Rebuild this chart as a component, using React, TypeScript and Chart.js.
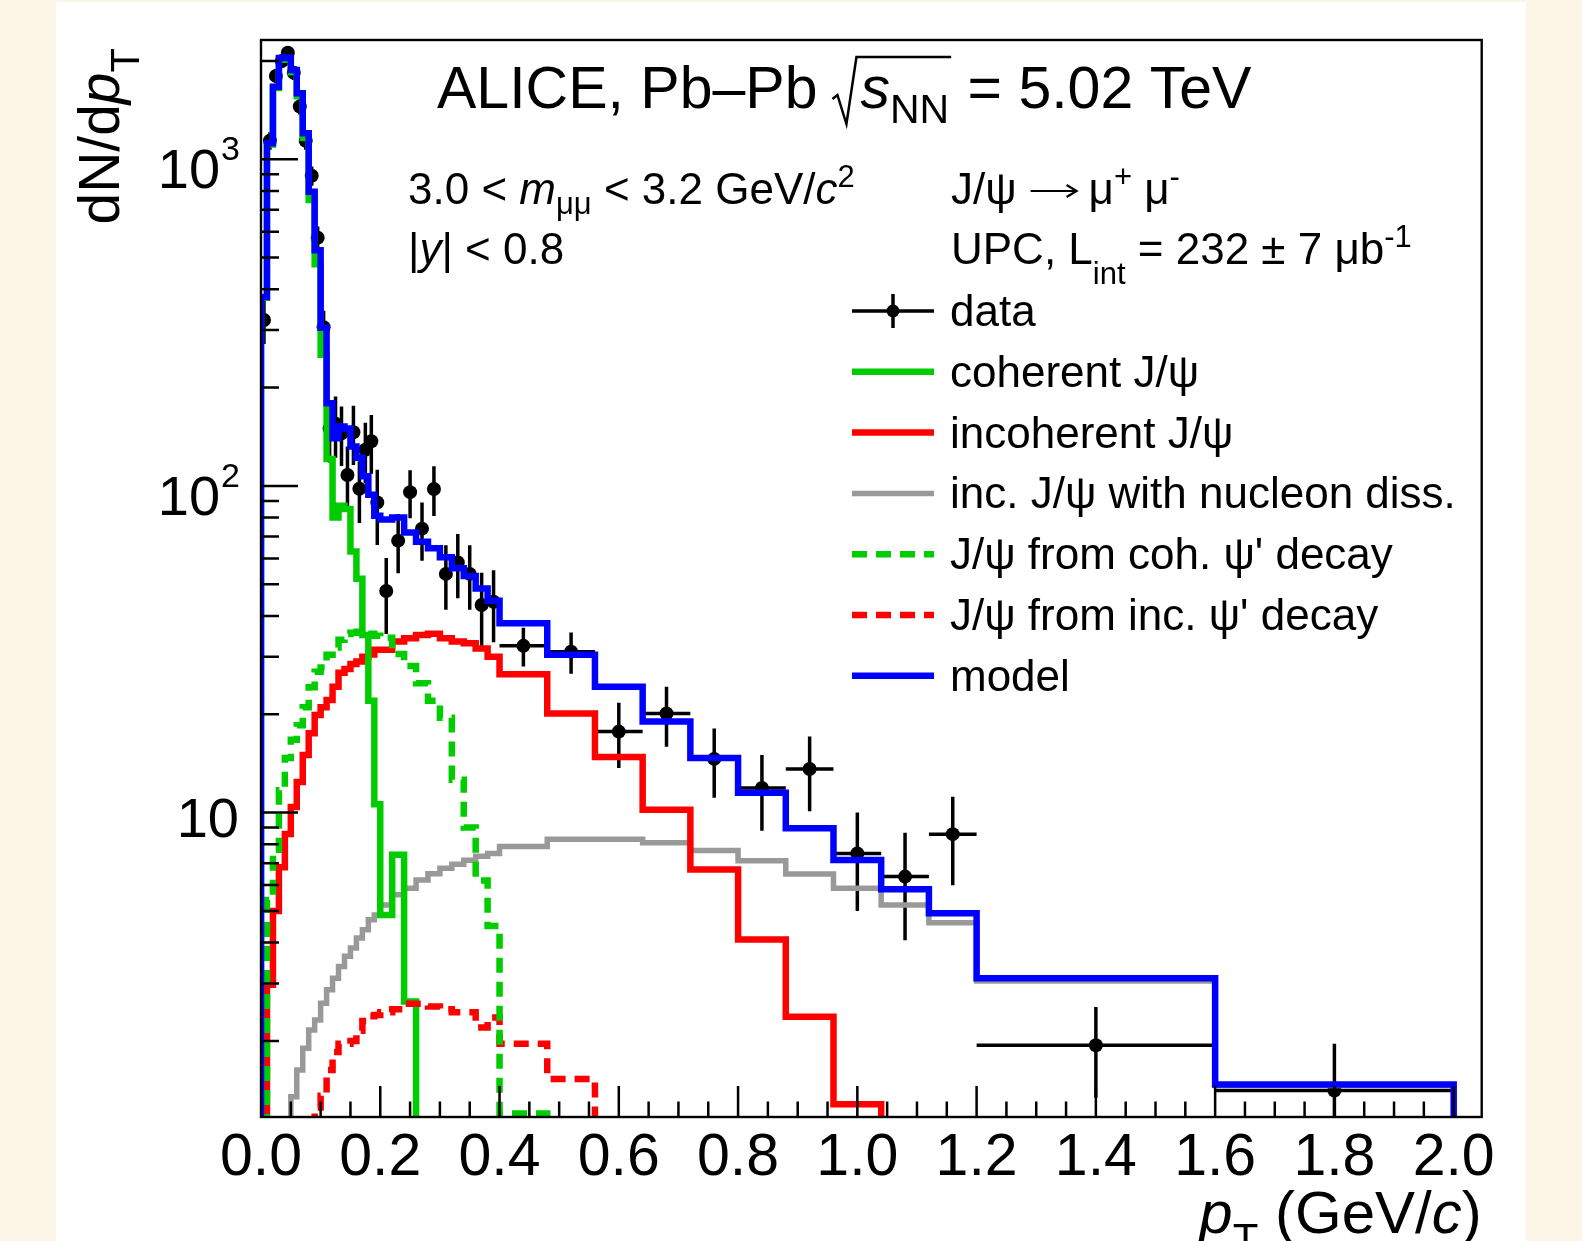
import React, { useEffect, useRef } from "react";
import { Chart, registerables } from "chart.js";

Chart.register(...registerables);

const FONT = '"Liberation Sans", Arial, Helvetica, sans-serif';

// ---------- DATA ----------
const binEdges = [0, 0.01, 0.02, 0.03, 0.04, 0.05, 0.06, 0.07, 0.08, 0.09, 0.1, 0.11, 0.12, 0.13, 0.14, 0.15, 0.16, 0.17, 0.18, 0.19, 0.2, 0.22, 0.24, 0.26, 0.28, 0.3, 0.32, 0.34, 0.36, 0.38, 0.4, 0.48, 0.56, 0.64, 0.72, 0.8, 0.88, 0.96, 1.04, 1.12, 1.2, 1.6, 2.0];

const modelValues = [379, 1119, 1667, 2040, 2050, 1876, 1592, 1201, 796, 527, 305, 179, 140, 152, 150, 132, 122, 107, 94, 81, 79, 80, 72, 67.5, 64.5, 60.5, 56, 53, 48.5, 44.5, 38, 30.4, 24.3, 19.0, 14.7, 11.5, 8.96, 7.16, 5.83, 4.92, 3.11, 1.47];

const coherentValues = [377, 1110, 1653, 2015, 2020, 1848, 1560, 1162, 751, 477, 252, 121, 80, 87, 85, 63, 52, 35, 22, 10.6, 4.86, 7.43, 2.64, 0.3, 0.05, 0.02, 0.01, 0.01, 0.01, 0.01, 0.01, 0.01, 0.01, 0.01, 0.01, 0.01, 0.01, 0.01, 0.01, 0.01, 0.01, 0.01];

const incoherentValues = [0.5, 2.97, 5.0, 6.8, 8.6, 10.4, 12.4, 15.0, 17.5, 19.9, 21, 22.1, 24.3, 26.8, 27.5, 28.5, 29, 30, 30.5, 31.5, 31.5, 33.4, 34.2, 35.0, 35.3, 34.2, 33.4, 33.0, 31.8, 30.0, 26.5, 20.1, 14.8, 10.2, 6.7, 4.09, 2.37, 1.28, 0.5, 0.2, 0.05, 0.01];

const nucleonDissValues = [0.3, 0.5, 0.7, 0.9, 1.1, 1.35, 1.63, 1.9, 2.16, 2.32, 2.61, 2.87, 3.11, 3.38, 3.63, 3.85, 4.13, 4.38, 4.7, 4.86, 5.21, 5.6, 5.87, 6.22, 6.5, 6.75, 6.95, 7.15, 7.35, 7.5, 7.87, 8.29, 8.29, 8.09, 7.65, 7.12, 6.49, 5.87, 5.21, 4.6, 3.05, 1.46];

const cohPsi2sValues = [0.5, 5.4, 7.7, 11.7, 14.7, 16.7, 18.5, 21.0, 24.2, 27, 27.8, 30.4, 32, 33.8, 35.2, 35.5, 35.8, 35.8, 35.3, 34.8, 34.3, 30.6, 28.1, 24.9, 22, 19.5, 12.6, 9, 6.2, 4.5, 1.2, 0.3, 0.05, 0.01, 0.01, 0.01, 0.01, 0.01, 0.01, 0.01, 0.01, 0.01];

const incPsi2sValues = [0.05, 0.1, 0.2, 0.35, 0.5, 0.65, 0.8, 0.95, 1.15, 1.25, 1.36, 1.63, 1.85, 1.96, 1.96, 2.0, 2.15, 2.3, 2.38, 2.4, 2.45, 2.5, 2.6, 2.6, 2.55, 2.5, 2.45, 2.45, 2.2, 2.36, 1.96, 1.53, 0.5, 0.2, 0.1, 0.05, 0.02, 0.01, 0.01, 0.01, 0.01, 0.01];

const dataValues = [322, 1140, 1800, 2000, 2120, 1840, 1450, 1140, 890, 575, 306, 150, 155, 145, 108, 146, 98, 129, 137, 89, 47.7, 68, 95.7, 74, 97.9, 53.8, 58.3, 53.8, 43.2, 44.2, 32.4, 31.1, 17.7, 20.1, 14.6, 11.9, 13.6, 7.5, 6.37, 8.59, 1.94, 1.41];

const dataErrors = [50, 70, 90, 95, 95, 90, 80, 70, 60, 48, 38, 32, 33, 30, 24, 30, 21, 27, 28, 23, 12.5, 14, 16, 15, 17, 12, 13, 12, 11, 11, 4.4, 4.5, 4, 4.2, 3.5, 3.1, 3.5, 2.5, 2.3, 2.6, 0.6, 0.55];

const xMajorTicks = [0, 0.2, 0.4, 0.6, 0.8, 1.0, 1.2, 1.4, 1.6, 1.8, 2.0];
const xTickLabels = ["0.0", "0.2", "0.4", "0.6", "0.8", "1.0", "1.2", "1.4", "1.6", "1.8", "2.0"];
const yMajorTicks = [10, 100, 1000];
const yTickExponents = ["", "2", "3"];

const legendLabels = [
  "data",
  "coherent J/\u03C8",
  "incoherent J/\u03C8",
  "inc. J/\u03C8 with nucleon diss.",
  "J/\u03C8 from coh. \u03C8' decay",
  "J/\u03C8 from inc. \u03C8' decay",
  "model",
];

// ---------- STYLE ----------
const X_MIN = 0;
const X_MAX = 2.047;
const Y_MIN = 1.17;
const Y_MAX = 2318;
const FLOOR = 0.005;
const W = 1582;
const H = 1241;
const GREEN = "#00cc00";
const RED = "#ff0000";
const GRAY = "#999999";
const BLUE = "#0000ff";
const DASH = [15, 9];
const LW = 6.5;

function histPoints(values: number[]) {
  const n = binEdges.length - 1;
  const pts: { x: number; y: number }[] = [{ x: binEdges[0], y: FLOOR }];
  for (let i = 0; i < n; i++) pts.push({ x: binEdges[i], y: values[i] });
  pts.push({ x: binEdges[n], y: values[n - 1] });
  pts.push({ x: binEdges[n], y: FLOOR });
  return pts;
}

type Seg = { t: string; it?: boolean; s?: number; dy?: number };

function fontOf(sg: Seg, base: number) {
  return `${sg.it ? "italic " : ""}${Math.round((sg.s ?? 1) * base)}px ${FONT}`;
}

function drawRich(ctx: CanvasRenderingContext2D, x: number, y: number, segs: Seg[], base: number, align: "left" | "right" | "center" = "left") {
  const widths = segs.map((sg) => {
    ctx.font = fontOf(sg, base);
    return ctx.measureText(sg.t).width;
  });
  const total = widths.reduce((a, b) => a + b, 0);
  let cx = align === "right" ? x - total : align === "center" ? x - total / 2 : x;
  ctx.textAlign = "left";
  ctx.textBaseline = "alphabetic";
  segs.forEach((sg, i) => {
    ctx.font = fontOf(sg, base);
    ctx.fillText(sg.t, cx, y + (sg.dy ?? 0));
    cx += widths[i];
  });
  return cx;
}

const rootPlugin = {
  id: "rootStyle",
  beforeDraw(chart: any) {
    const ctx: CanvasRenderingContext2D = chart.ctx;
    ctx.save();
    ctx.fillStyle = "#fdf6e7";
    ctx.fillRect(0, 0, W, H);
    ctx.fillStyle = "#ffffff";
    ctx.fillRect(56, 2, 1470, H - 2);
    ctx.restore();
  },
  beforeDatasetsDraw(chart: any) {
    const ctx: CanvasRenderingContext2D = chart.ctx;
    const xs = chart.scales.x;
    const ys = chart.scales.y;
    const a = chart.chartArea;
    ctx.save();
    ctx.beginPath();
    ctx.rect(a.left, a.top, a.right - a.left, a.bottom - a.top);
    ctx.clip();
    ctx.strokeStyle = "#000";
    ctx.lineWidth = 3.5;
    ctx.beginPath();
    for (let i = 0; i < dataValues.length; i++) {
      const xc = (binEdges[i] + binEdges[i + 1]) / 2;
      const v = dataValues[i];
      const e = dataErrors[i];
      const px = xs.getPixelForValue(xc);
      const py = ys.getPixelForValue(v);
      ctx.moveTo(px, ys.getPixelForValue(v + e));
      ctx.lineTo(px, ys.getPixelForValue(Math.max(v - e, FLOOR)));
      ctx.moveTo(xs.getPixelForValue(binEdges[i]), py);
      ctx.lineTo(xs.getPixelForValue(binEdges[i + 1]), py);
    }
    ctx.stroke();
    ctx.restore();
  },
  afterDatasetsDraw(chart: any) {
    const ctx: CanvasRenderingContext2D = chart.ctx;
    const xs = chart.scales.x;
    const ys = chart.scales.y;
    const a = chart.chartArea;
    ctx.save();
    ctx.fillStyle = "#000";
    ctx.strokeStyle = "#000";

    // ticks
    ctx.lineWidth = 2.5;
    ctx.beginPath();
    for (let i = 1; i <= 40; i++) {
      const v = i * 0.05;
      const px = xs.getPixelForValue(v);
      const major = i % 4 === 0;
      ctx.moveTo(px, a.bottom);
      ctx.lineTo(px, a.bottom - (major ? 31 : 15.5));
    }
    for (let k = 0; k <= 3; k++) {
      for (let m = 1; m <= 9; m++) {
        const v = m * Math.pow(10, k);
        if (v < Y_MIN || v > Y_MAX) continue;
        const py = ys.getPixelForValue(v);
        ctx.moveTo(a.left, py);
        ctx.lineTo(a.left + (m === 1 ? 37 : 18), py);
      }
    }
    ctx.stroke();

    // frame
    ctx.lineWidth = 2.4;
    ctx.strokeRect(a.left, a.top, a.right - a.left, a.bottom - a.top);

    // x tick labels
    ctx.font = `59px ${FONT}`;
    ctx.textAlign = "center";
    ctx.textBaseline = "alphabetic";
    xMajorTicks.forEach((v, i) => {
      ctx.fillText(xTickLabels[i], xs.getPixelForValue(v), 1175);
    });

    // y tick labels
    yMajorTicks.forEach((v, i) => {
      const py = ys.getPixelForValue(v);
      const exp = yTickExponents[i];
      if (exp) {
        ctx.font = `34px ${FONT}`;
        ctx.textAlign = "right";
        ctx.fillText(exp, 240, py + 1);
        const ew = ctx.measureText(exp).width;
        ctx.font = `56px ${FONT}`;
        ctx.fillText("10", 240 - ew - 1, py + 29);
      } else {
        ctx.font = `56px ${FONT}`;
        ctx.textAlign = "right";
        ctx.fillText("10", 239, py + 24);
      }
    });

    // axis titles
    drawRich(ctx, a.right, 1233, [
      { t: "p", it: true },
      { t: "T", s: 0.7, dy: 20 },
      { t: " (GeV/" },
      { t: "c", it: true },
      { t: ")" },
    ], 59.5, "right");

    ctx.save();
    ctx.translate(119, 48);
    ctx.rotate(-Math.PI / 2);
    drawRich(ctx, 0, 0, [
      { t: "dN/d" },
      { t: "p", it: true },
      { t: "T", s: 0.7, dy: 20 },
    ], 57, "right");
    ctx.restore();

    // title
    let cx = drawRich(ctx, 437, 108, [{ t: "ALICE, Pb\u2013Pb" }], 58.5);
    const r0 = cx + 15;
    ctx.lineWidth = 2.5;
    ctx.beginPath();
    ctx.moveTo(r0, 99);
    ctx.lineTo(r0 + 5, 95);
    ctx.lineTo(r0 + 14, 124);
    ctx.lineTo(r0 + 24, 57);
    const sx = r0 + 28;
    cx = drawRich(ctx, sx, 108, [
      { t: "s", it: true },
      { t: "NN", s: 0.7, dy: 15 },
    ], 58.5);
    ctx.lineTo(cx + 2, 57);
    ctx.stroke();
    drawRich(ctx, cx + 2, 108, [{ t: " = 5.02 TeV" }], 58.5);

    // info texts
    drawRich(ctx, 408, 204, [
      { t: "3.0 < " },
      { t: "m", it: true },
      { t: "\u03BC\u03BC", s: 0.7, dy: 10 },
      { t: " < 3.2 GeV/" },
      { t: "c", it: true },
      { t: "2", s: 0.7, dy: -17 },
    ], 44);
    drawRich(ctx, 408, 264, [
      { t: "|" },
      { t: "y", it: true },
      { t: "| < 0.8" },
    ], 44);
    cx = drawRich(ctx, 951, 204, [{ t: "J/\u03C8" }], 44);
    // long arrow
    const ax0 = cx + 14;
    const ax1 = cx + 60;
    const ay = 191;
    ctx.lineWidth = 2.2;
    ctx.beginPath();
    ctx.moveTo(ax0, ay);
    ctx.lineTo(ax1, ay);
    ctx.moveTo(ax1 - 10, ay - 6);
    ctx.lineTo(ax1, ay);
    ctx.lineTo(ax1 - 10, ay + 6);
    ctx.stroke();
    drawRich(ctx, ax1 + 12, 204, [
      { t: "\u03BC" },
      { t: "+", s: 0.7, dy: -17 },
      { t: " \u03BC" },
      { t: "-", s: 0.7, dy: -17 },
    ], 44);
    drawRich(ctx, 951, 264, [
      { t: "UPC, L" },
      { t: "int", s: 0.7, dy: 20 },
      { t: " = 232 \u00B1 7 \u03BCb" },
      { t: "-1", s: 0.7, dy: -17 },
    ], 44);

    // legend
    const ly = [311, 371.8, 432.6, 493.4, 554.2, 615, 675.8];
    const lx1 = 852;
    const lx2 = 934;
    const styles: { c: string; dash: number[]; w: number }[] = [
      { c: "#000", dash: [], w: 3.5 },
      { c: GREEN, dash: [], w: LW },
      { c: RED, dash: [], w: LW },
      { c: GRAY, dash: [], w: 5.5 },
      { c: GREEN, dash: DASH, w: LW },
      { c: RED, dash: DASH, w: LW },
      { c: BLUE, dash: [], w: LW },
    ];
    legendLabels.forEach((lab, i) => {
      const y = ly[i];
      ctx.save();
      ctx.strokeStyle = styles[i].c;
      ctx.lineWidth = styles[i].w;
      ctx.setLineDash(styles[i].dash);
      ctx.beginPath();
      ctx.moveTo(lx1, y);
      ctx.lineTo(lx2, y);
      if (i === 0) {
        const mx = (lx1 + lx2) / 2;
        ctx.moveTo(mx, y - 17);
        ctx.lineTo(mx, y + 17);
      }
      ctx.stroke();
      if (i === 0) {
        ctx.fillStyle = "#000";
        ctx.beginPath();
        ctx.arc((lx1 + lx2) / 2, y, 6.5, 0, Math.PI * 2);
        ctx.fill();
      }
      ctx.restore();
      ctx.fillStyle = "#000";
      drawRich(ctx, 950, y + 15, [{ t: lab }], 44);
    });

    ctx.restore();
  },
};

export default function App() {
  const ref = useRef<HTMLCanvasElement>(null);
  useEffect(() => {
    const canvas = ref.current;
    if (!canvas) return;
    const centers = dataValues.map((_, i) => (binEdges[i] + binEdges[i + 1]) / 2);
    const lineDs = (label: string, values: number[], color: string, dash: number[], order: number, width = LW) => ({
      label,
      data: histPoints(values),
      borderColor: color,
      backgroundColor: color,
      borderWidth: width,
      borderDash: dash,
      borderJoinStyle: "miter" as const,
      borderCapStyle: "butt" as const,
      stepped: "before" as const,
      pointRadius: 0,
      pointHitRadius: 0,
      fill: false,
      tension: 0,
      clip: 0,
      order,
    });
    const chart = new Chart(canvas, {
      type: "line",
      data: {
        datasets: [
          lineDs("model", modelValues, BLUE, [], 0),
          lineDs("J/psi from coh. psi' decay", cohPsi2sValues, GREEN, DASH, 1),
          lineDs("J/psi from inc. psi' decay", incPsi2sValues, RED, DASH, 2),
          lineDs("coherent J/psi", coherentValues, GREEN, [], 3),
          lineDs("incoherent J/psi", incoherentValues, RED, [], 4),
          lineDs("inc. J/psi with nucleon diss.", nucleonDissValues, GRAY, [], 5, 5.5),
          {
            label: "data",
            data: centers.map((x, i) => ({ x, y: dataValues[i] })),
            showLine: false,
            pointRadius: 7,
            pointHoverRadius: 7,
            pointBackgroundColor: "#000",
            pointBorderWidth: 0,
            borderColor: "#000",
            backgroundColor: "#000",
            clip: 0,
            order: 10,
          } as any,
        ],
      },
      options: {
        responsive: false,
        maintainAspectRatio: false,
        devicePixelRatio: 1,
        animation: false,
        events: [],
        layout: { padding: { left: 0, top: 40, right: W - 1481.7, bottom: 0 } },
        plugins: {
          legend: { display: false },
          tooltip: { enabled: false },
          title: { display: false },
        },
        scales: {
          x: {
            type: "linear",
            min: X_MIN,
            max: X_MAX,
            bounds: "data",
            grid: { display: false, drawTicks: false },
            border: { display: false },
            ticks: { display: false },
            afterFit: (s: any) => {
              s.height = H - 1117;
            },
          },
          y: {
            type: "logarithmic",
            min: Y_MIN,
            max: Y_MAX,
            bounds: "data",
            grid: { display: false, drawTicks: false },
            border: { display: false },
            ticks: { display: false },
            afterFit: (s: any) => {
              s.width = 261;
            },
          },
        },
      } as any,
      plugins: [rootPlugin],
    });
    return () => chart.destroy();
  }, []);
  return (
    <div style={{ position: "fixed", left: 0, top: 0, width: W, height: H }}>
      <canvas ref={ref} width={W} height={H} style={{ display: "block", width: W, height: H }} />
    </div>
  );
}
